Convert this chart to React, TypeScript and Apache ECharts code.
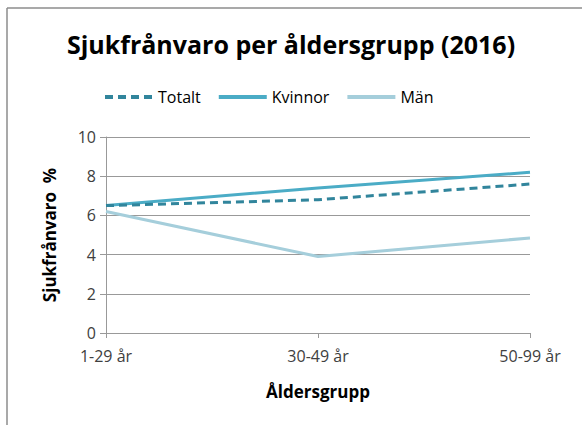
import React, { useEffect, useRef } from "react";
import * as echarts from "echarts";

const categories = ["1-29 år", "30-49 år", "50-99 år"];
const totalt = [6.5, 6.8, 7.6];
const kvinnor = [6.5, 7.4, 8.2];
const man = [6.2, 3.9, 4.85];
const seriesNames = ["Totalt", "Kvinnor", "Män"];

export default function App() {
  const ref = useRef<HTMLDivElement>(null);
  useEffect(() => {
    const chart = echarts.init(ref.current!, null, { renderer: "svg" });
    const font = "'Open Sans', 'Noto Sans', sans-serif";
    chart.setOption({
      animation: false,
      backgroundColor: "#ffffff",
      textStyle: { fontFamily: font },
      title: {
        text: "Sjukfrånvaro per åldersgrupp (2016)",
        left: "center",
        top: 26,
        textStyle: { fontSize: 25, fontWeight: "bold", color: "#000", fontFamily: font },
      },
      legend: {
        top: 84,
        left: 98,
        itemWidth: 48,
        itemHeight: 14,
        itemGap: 16,
        itemStyle: { opacity: 0 },
        lineStyle: { width: 4 },
        textStyle: { fontSize: 16, color: "#000", fontFamily: font },
        data: seriesNames,
      },
      graphic: [
        { type: "line", shape: { x1: 7, y1: 8, x2: 582, y2: 8 }, style: { stroke: "#8c8c8c", lineWidth: 1.5 } },
        { type: "line", shape: { x1: 7, y1: 8, x2: 7, y2: 425 }, style: { stroke: "#8c8c8c", lineWidth: 1.5 } },
      ],
      grid: { left: 106, right: 52, top: 137, bottom: 92 },
      xAxis: {
        type: "category",
        data: categories,
        boundaryGap: false,
        name: "Åldersgrupp",
        nameLocation: "middle",
        nameGap: 50,
        nameTextStyle: { fontSize: 17, fontWeight: "bold", color: "#000", fontFamily: font },
        axisLine: { lineStyle: { color: "#999", width: 1 } },
        axisTick: { show: true, length: 5, lineStyle: { color: "#999" } },
        axisLabel: { fontSize: 16, color: "#404040", margin: 15, fontFamily: font },
      },
      yAxis: {
        type: "value",
        min: 0,
        max: 10,
        interval: 2,
        name: "Sjukfrånvaro  %",
        nameLocation: "middle",
        nameGap: 48,
        nameTextStyle: { fontSize: 17, fontWeight: "bold", color: "#000", fontFamily: font },
        axisLine: { show: true, lineStyle: { color: "#999" } },
        axisTick: { show: true, length: 6, lineStyle: { color: "#999" } },
        axisLabel: { fontSize: 16, color: "#404040", margin: 10, fontFamily: font },
        splitLine: { lineStyle: { color: "#999", width: 1 } },
      },
      series: [
        {
          name: "Totalt",
          type: "line",
          data: totalt,
          symbol: "none",
          color: "#31859C",
          lineStyle: { width: 3, type: [8, 5], color: "#31859C" },
          z: 3,
        },
        {
          name: "Kvinnor",
          type: "line",
          data: kvinnor,
          symbol: "none",
          color: "#4BACC6",
          lineStyle: { width: 3, color: "#4BACC6" },
          z: 2,
        },
        {
          name: "Män",
          type: "line",
          data: man,
          symbol: "none",
          color: "#A5CEDB",
          lineStyle: { width: 3, color: "#A5CEDB" },
          z: 1,
        },
      ],
    });
    return () => chart.dispose();
  }, []);
  return <div ref={ref} style={{ width: 582, height: 425, position: "absolute", left: 0, top: 0 }} />;
}
